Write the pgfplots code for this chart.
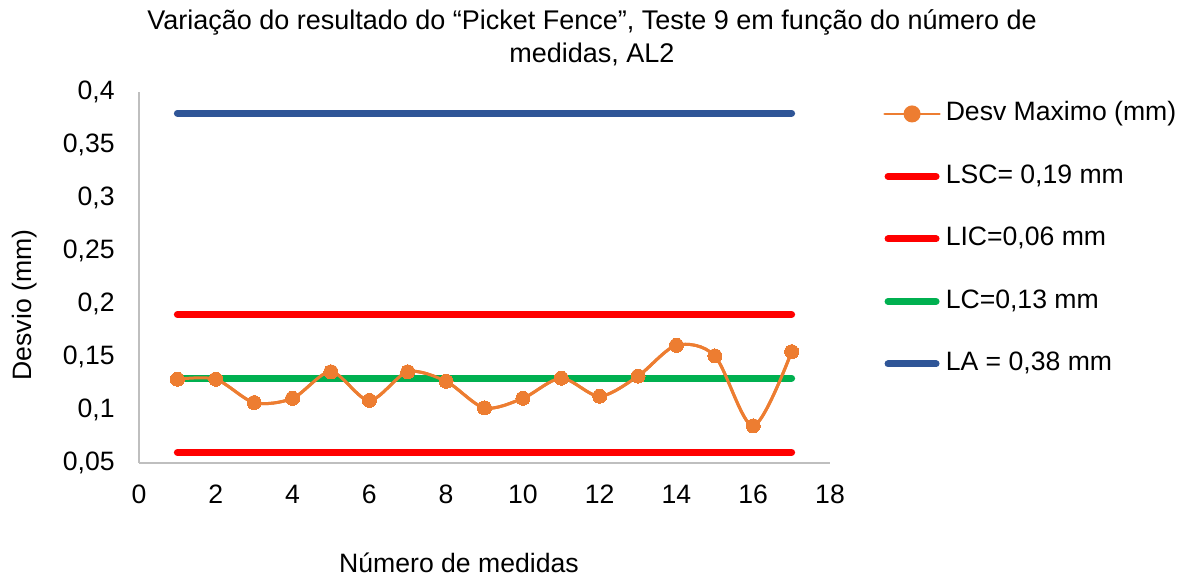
\documentclass[border=0pt]{standalone}
\usepackage{fontspec}
\setmainfont{Liberation Sans}
\usepackage{pgfplots}
\pgfplotsset{compat=1.18}
\definecolor{xorange}{HTML}{ED7D31}
\definecolor{xred}{HTML}{FF0000}
\definecolor{xgreen}{HTML}{00B050}
\definecolor{xblue}{HTML}{2F5597}
\definecolor{xgray}{HTML}{BFBFBF}
\begin{document}
\begin{tikzpicture}
\useasboundingbox (0,0) rectangle (595.5bp,288bp);
\begin{axis}[
  at={(69.5bp,56.5bp)}, anchor=south west,
  scale only axis, width=345.5bp, height=185.5bp,
  xmin=0, xmax=18, ymin=0.05, ymax=0.4,
  xtick={0,2,...,18},
  ytick={0.05,0.1,0.15,0.2,0.25,0.3,0.35,0.4},
  yticklabels={{0,05},{0,1},{0,15},{0,2},{0,25},{0,3},{0,35},{0,4}},
  axis x line*=bottom, axis y line*=left,
  axis line style={xgray, line width=1pt, -},
  major tick length=0pt,
  tick label style={font=\fontsize{13.3bp}{16bp}\selectfont},
  /pgf/number format/assume math mode=true,
  xticklabel style={anchor=north, inner sep=0pt, yshift=-11bp},
  yticklabel style={anchor=east, inner sep=0pt, xshift=-12bp},
  legend cell align=left,
  legend style={draw=none, fill=none, at={(1.068,0.985)}, anchor=north west,
    font=\fontsize{13.3bp}{16bp}\selectfont,
    nodes={inner sep=0pt, text height=9.5bp, text depth=2.5bp},
    row sep=19.25bp, column sep=2.5bp},
  every axis plot/.append style={line cap=round},
]
\addplot[xorange, line width=1.5bp, smooth, mark=*, mark size=3.5bp,
  mark options={fill=xorange, draw=xorange, line width=0pt},
  legend image code/.code={\draw[line width=1.2bp] (0bp,0bp) -- (27.5bp,0bp); \fill[xorange] (13.75bp,0bp) circle (3.5bp);}]
coordinates {
(1,0.129) (2,0.129) (3,0.107) (4,0.111) (5,0.136) (6,0.109) (7,0.136) (8,0.127) (9,0.102)
(10,0.111) (11,0.130) (12,0.113) (13,0.132) (14,0.161) (15,0.151) (16,0.085) (17,0.155)};
\addlegendentry{Desv Maximo (mm)}
\addplot[xred, line width=3.5bp,
  legend image code/.code={\draw[line width=3.5bp, line cap=round] (1.75bp,0bp) -- (25.75bp,0bp);}]
coordinates {(1,0.19) (17,0.19)};
\addlegendentry{LSC= 0,19 mm}
\addplot[xred, line width=3.5bp,
  legend image code/.code={\draw[line width=3.5bp, line cap=round] (1.75bp,0bp) -- (25.75bp,0bp);}]
coordinates {(1,0.06) (17,0.06)};
\addlegendentry{LIC=0,06 mm}
\addplot[xgreen, line width=3.5bp,
  legend image code/.code={\draw[line width=3.5bp, line cap=round] (1.75bp,0bp) -- (25.75bp,0bp);}]
coordinates {(1,0.13) (17,0.13)};
\addlegendentry{LC=0,13 mm}
\addplot[xblue, line width=3.5bp,
  legend image code/.code={\draw[line width=3.5bp, line cap=round] (1.75bp,0bp) -- (25.75bp,0bp);}]
coordinates {(1,0.38) (17,0.38)};
\addlegendentry{LA = 0,38 mm}
% orange series drawn again on top of the green line
\addplot[xorange, line width=1.5bp, smooth, mark=*, mark size=3.5bp,
  mark options={fill=xorange, draw=xorange, line width=0pt}, forget plot]
coordinates {
(1,0.129) (2,0.129) (3,0.107) (4,0.111) (5,0.136) (6,0.109) (7,0.136) (8,0.127) (9,0.102)
(10,0.111) (11,0.130) (12,0.113) (13,0.132) (14,0.161) (15,0.151) (16,0.085) (17,0.155)};
\end{axis}
\node[align=center, font=\fontsize{13.5bp}{16.5bp}\selectfont] at (296bp,269bp)
  {Variação do resultado do “Picket Fence”, Teste 9 em função do número de\\medidas, AL2};
\node[font=\fontsize{13.3bp}{16bp}\selectfont] at (229.5bp,6.5bp) {Número de medidas};
\node[font=\fontsize{13.3bp}{16bp}\selectfont, rotate=90] at (12.5bp,135.5bp) {Desvio (mm)};
\end{tikzpicture}
\end{document}
